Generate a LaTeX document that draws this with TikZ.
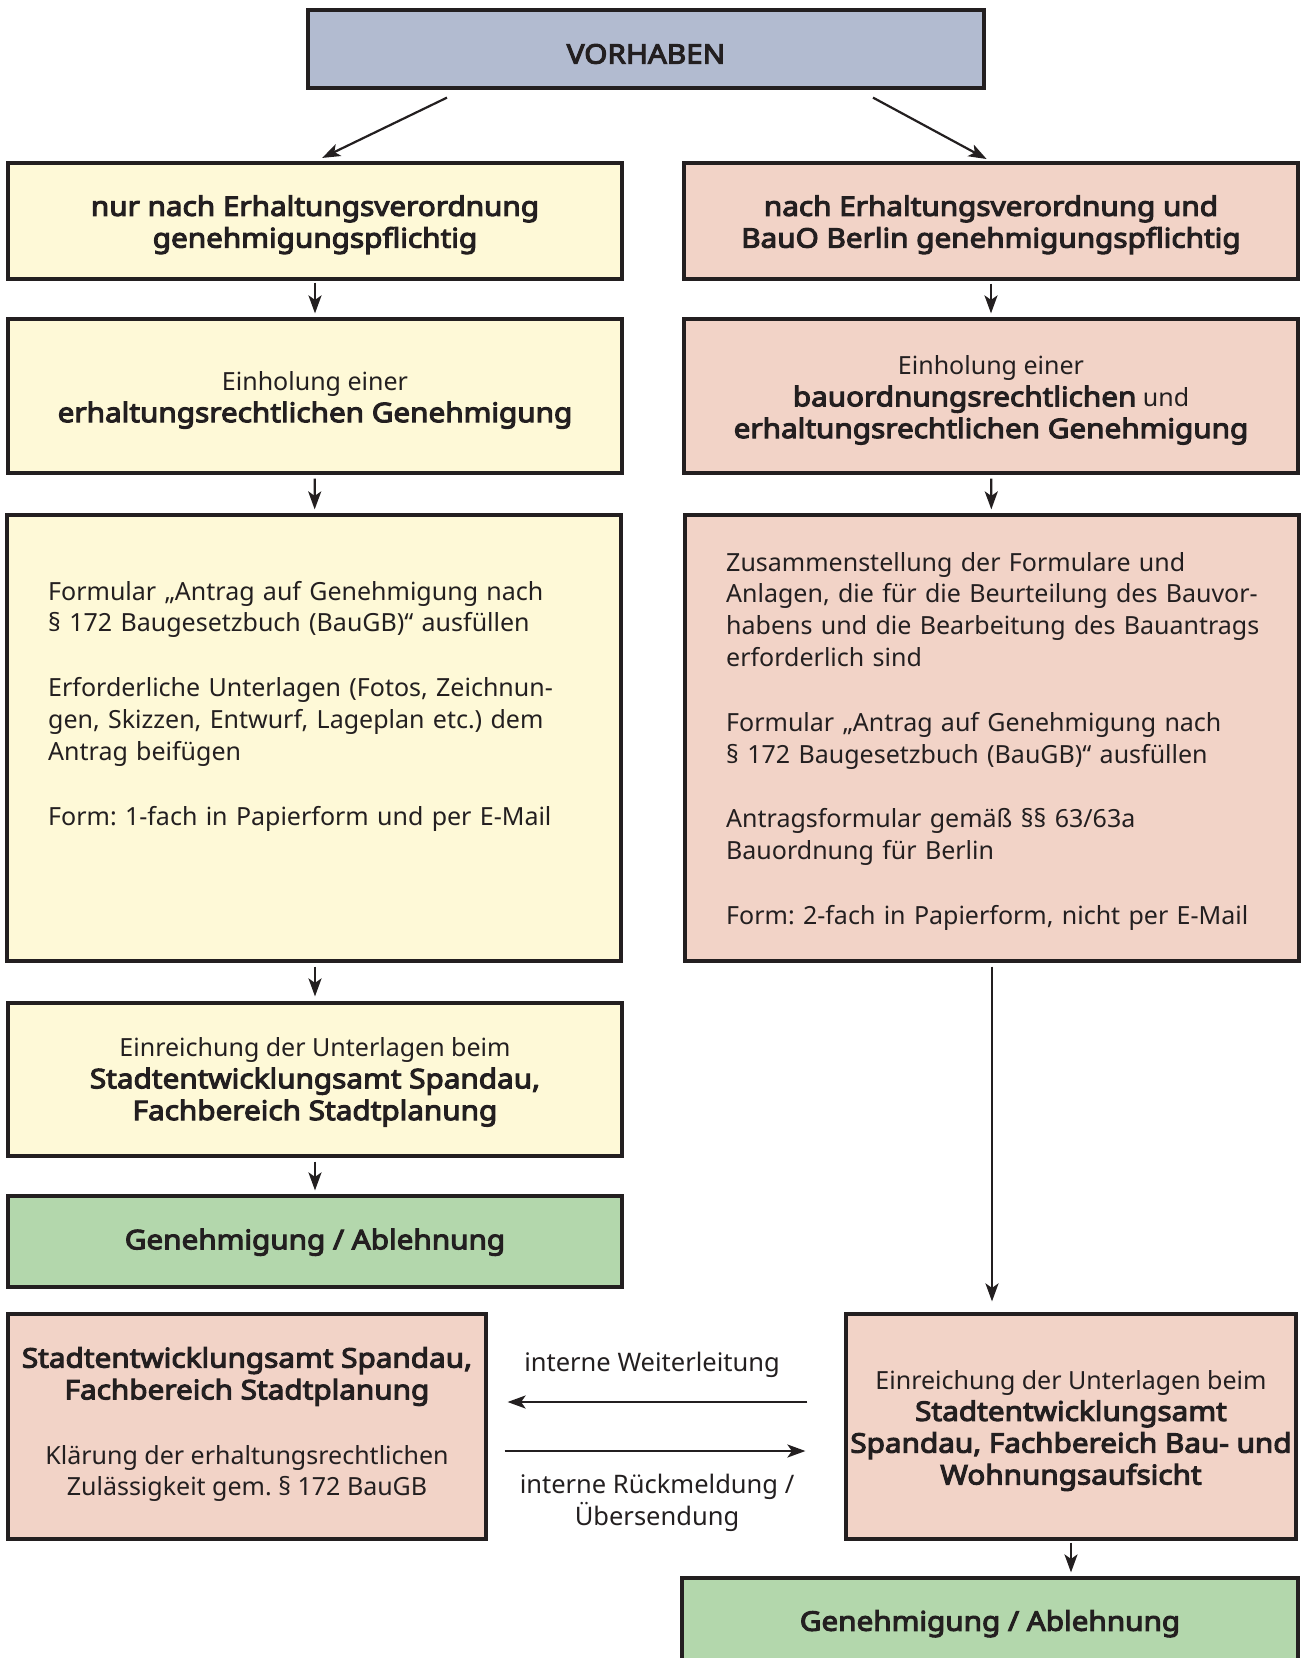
\documentclass[tikz,border=0pt]{standalone}
\usepackage{fontspec}
\setmainfont{Noto Sans}[BoldFont={Noto Sans}, BoldFeatures={FakeBold=4,FakeStretch=1.1}]
\frenchspacing
\usetikzlibrary{arrows.meta,calc}
\definecolor{ink}{HTML}{231F20}
\definecolor{vhblue}{HTML}{B2BBD0}
\definecolor{yel}{HTML}{FEF9D7}
\definecolor{pinkc}{HTML}{F2D3C7}
\definecolor{grn}{HTML}{B3D7AC}
\newcommand\regtxt{\fontsize{25}{31.8}\selectfont}
\newcommand\boldtxt{\fontsize{27}{31.8}\selectfont\bfseries}
\newcommand\bt[1]{{\boldtxt #1}}
\newcommand\tp[1]{\rule{0pt}{#1pt}}
\begin{document}
\begin{tikzpicture}[x=1pt,y=-1pt,
  box/.style={draw=ink, line width=3.2pt, inner sep=0pt, align=center, text=ink},
  yelbox/.style={box, fill=yel},
  pinkbox/.style={box, fill=pinkc},
  grnbox/.style={box, fill=grn, font=\boldtxt},
  colbox/.style={minimum width=614pt},
  conn/.style={draw=ink, line width=2.2pt, -{Stealth[length=18pt,width=13pt,inset=4.5pt]}},
  lbl/.style={text=ink, font=\regtxt, align=center, inner sep=0pt},
  para/.style={text=ink, font=\regtxt, align=left, text width=590pt, inner sep=0pt, anchor=base west}]
\useasboundingbox (0,0) rectangle (1301,1658);
\fill[white] (0,0) rectangle (1301,1658);

% top
\node[box, fill=vhblue, minimum width=676pt, minimum height=78pt] (vh) at (646,49) {};
\node[text=ink, font=\boldtxt, inner sep=0pt] (vht) at (646,54) {VORHABEN};

% left column
\node[yelbox, colbox, minimum height=116pt, font=\boldtxt] (l1) at (315,221)
  {\tp{28}nur nach Erhaltungsverordnung\\genehmigungspflichtig};
\node[yelbox, colbox, minimum height=154pt, font=\regtxt] (l2) at (315,396)
  {\tp{27}Einholung einer\\\bt{erhaltungsrechtlichen Genehmigung}};
\node[yelbox, colbox, minimum height=446pt] (l3) at (314,738) {};
\node[para] (l3t) at (48,600)
  {Formular „Antrag auf Genehmigung nach\\
   § 172 Baugesetzbuch (BauGB)“ ausfüllen\\[33pt]
   Erforderliche Unterlagen (Fotos, Zeichnun-\\
   gen, Skizzen, Entwurf, Lageplan etc.) dem\\
   Antrag beifügen\\[33pt]
   Form: 1-fach in Papierform und per E-Mail};
\node[yelbox, colbox, minimum height=153pt, font=\regtxt] (l4) at (315,1079.5)
  {\tp{24}Einreichung der Unterlagen beim\\
   \bt{Stadtentwicklungsamt Spandau,}\\
   \bt{Fachbereich Stadtplanung}};
\node[grnbox, colbox, minimum height=91pt] (gl) at (315,1241.5) {\tp{22}Genehmigung / Ablehnung};

% right column
\node[pinkbox, colbox, minimum height=116pt, font=\boldtxt] (r1) at (991,221)
  {\tp{28}nach Erhaltungsverordnung und\\BauO Berlin genehmigungspflichtig};
\node[pinkbox, colbox, minimum height=154pt, font=\regtxt] (r2) at (991,396)
  {\tp{27}Einholung einer\\
   \bt{bauordnungsrechtlichen} und\\
   \bt{erhaltungsrechtlichen Genehmigung}};
\node[pinkbox, colbox, minimum height=446pt] (r3) at (992,738) {};
\node[para] (r3t) at (726,571)
  {Zusammenstellung der Formulare und\\
   Anlagen, die für die Beurteilung des Bauvor-\\
   habens und die Bearbeitung des Bauantrags\\
   erforderlich sind\\[33pt]
   Formular „Antrag auf Genehmigung nach\\
   § 172 Baugesetzbuch (BauGB)“ ausfüllen\\[33pt]
   Antragsformular gemäß §§ 63/63a\\
   Bauordnung für Berlin\\[33pt]
   Form: 2-fach in Papierform, nicht per E-Mail};

% bottom row
\node[pinkbox, minimum width=478pt, minimum height=225pt] (lb) at (247,1426.5) {};
\node[lbl] (lbt) at (247,1424.5)
  {\bt{Stadtentwicklungsamt Spandau,}\\
   \bt{Fachbereich Stadtplanung}\\[33pt]
   Klärung der erhaltungsrechtlichen\\
   Zulässigkeit gem. § 172 BauGB};
\node[pinkbox, minimum width=450pt, minimum height=225pt, font=\regtxt] (rb) at (1071,1426.5)
  {\tp{27}Einreichung der Unterlagen beim\\
   \bt{Stadtentwicklungsamt}\\
   \bt{Spandau, Fachbereich Bau- und}\\
   \bt{Wohnungsaufsicht}};
\node[grnbox, minimum width=616pt, minimum height=90pt] (gr) at (990,1623) {\tp{22}Genehmigung / Ablehnung};

% labels
\node[lbl, font=\fontsize{25.5}{31.8}\selectfont] (lw) at (652,1365) {interne Weiterleitung};
\node[lbl, font=\fontsize{25.5}{31.8}\selectfont] (lr) at (657,1503) {interne Rückmeldung /\\Übersendung};

% connectors
\coordinate (vl) at ($(vh.south)+(-199,8)$);
\coordinate (vr) at ($(vh.south)+(227,8)$);
\coordinate (rlong) at (r3.south |- rb.north);
\draw[conn, shorten >=8pt] (vl) -- (l1.north);
\draw[conn, shorten >=5pt] (vr) -- (r1.north);
\draw[conn, shorten <=2pt, shorten >=4pt] (l1) -- (l2);
\draw[conn, shorten <=3pt, shorten >=4pt] (r1) -- (r2);
\draw[conn, shorten <=4pt, shorten >=4pt] (l2) -- (l3);
\draw[conn, shorten <=4pt, shorten >=4pt] (r2) -- (r3);
\draw[conn, shorten <=4pt, shorten >=5pt] (l3.south -| l4.north) -- (l4.north);
\draw[conn, shorten <=4pt, shorten >=4pt] (l4) -- (gl);
\draw[conn, shorten <=4pt, shorten >=11pt] (r3.south) -- (rlong);
\draw[conn, shorten <=2pt, shorten >=4pt] (rb.south) -- (rb.south |- gr.north);
\draw[conn, shorten <=37pt, shorten >=20pt] ($(rb.west)+(0,-24.5)$) -- ($(lb.east)+(0,-24.5)$);
\draw[conn, shorten <=17pt, shorten >=39pt] ($(lb.east)+(0,24.5)$) -- ($(rb.west)+(0,24.5)$);
\end{tikzpicture}
\end{document}
